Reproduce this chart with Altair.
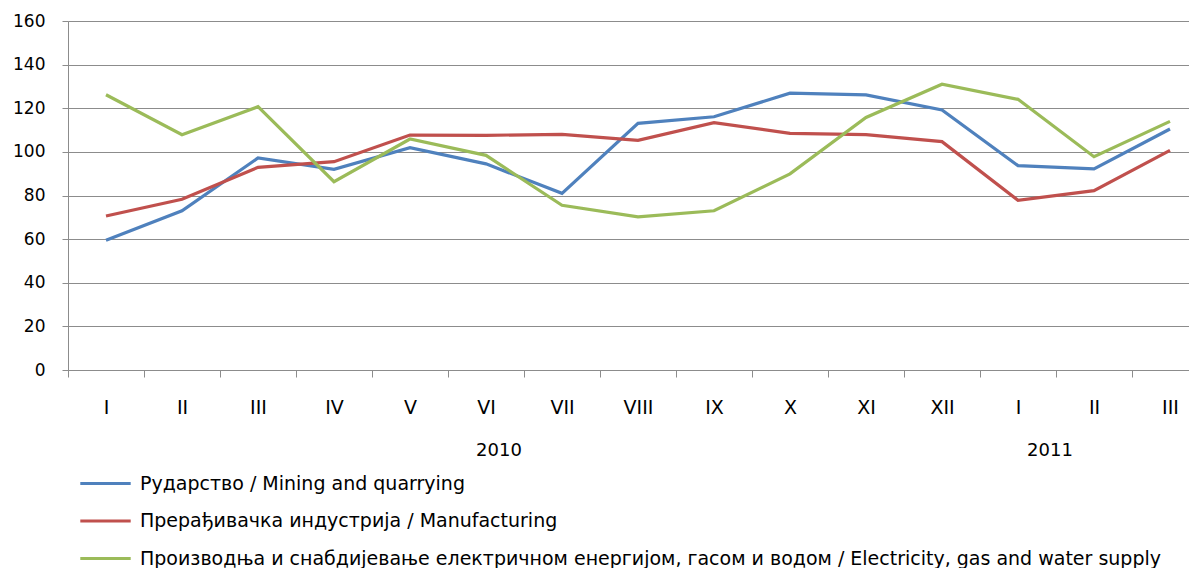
import altair as alt
import pandas as pd

months = ["I", "II", "III", "IV", "V", "VI", "VII", "VIII", "IX", "X", "XI", "XII", "I", "II", "III"]
years = ["2010", "2011"]
year_first_idx = [0, 12]
year_last_idx = [11, 14]
mining = [59.5, 73.0, 97.2, 92.0, 101.9, 94.5, 81.0, 113.1, 116.1, 126.9, 126.1, 119.2, 93.7, 92.2, 110.5]
manufacturing = [70.6, 78.3, 92.9, 95.5, 107.7, 107.6, 108.0, 105.3, 113.4, 108.5, 107.9, 104.7, 77.8, 82.2, 100.7]
electricity = [126.2, 107.9, 120.7, 86.3, 105.9, 98.4, 75.5, 70.2, 73.0, 89.9, 115.8, 131.0, 124.1, 97.8, 114.0]
series_names = [
    "Рударство / Mining and quarrying",
    "Прерађивачка индустрија / Manufacturing",
    "Производња и снабдијевање електричном енергијом, гасом и водом / Electricity, gas and water supply",
]
colors = ["#4F81BD", "#C0504D", "#9BBB59"]

FONT = "DejaVu Sans"
GRID = "#8c8c8c"

rows = []
for name, vals in zip(series_names, [mining, manufacturing, electricity]):
    for i, v in enumerate(vals):
        rows.append({"idx": i, "value": v, "series": name})
df = pd.DataFrame(rows)

month_df = pd.DataFrame({"idx": list(range(len(months))), "month": months})
year_df = pd.DataFrame({
    "year": years,
    "center": [(a + b) / 2 for a, b in zip(year_first_idx, year_last_idx)],
})

xscale = alt.Scale(domain=[-0.5, 14.25], nice=False, zero=False)
yscale = alt.Scale(domain=[0, 160], nice=False, zero=True)

label_expr = "[" + ",".join("'" + m + "'" for m in months) + "][datum.value]"

lines = alt.Chart(df).mark_line(strokeWidth=3.2).encode(
    x=alt.X("idx:Q", scale=xscale, axis=alt.Axis(
        values=[i + 0.5 for i in range(-1, 14)], labels=False, title=None, grid=False,
        tickSize=7, domainColor=GRID, tickColor=GRID, orient="bottom")),
    y=alt.Y("value:Q", scale=yscale, axis=alt.Axis(
        values=list(range(0, 161, 20)), title=None, grid=True, gridColor=GRID,
        domainColor=GRID, tickColor=GRID, tickSize=6, labelPadding=17,
        labelFont=FONT, labelFontSize=17, labelColor="black")),
    color=alt.Color("series:N", scale=alt.Scale(domain=series_names, range=colors),
                    legend=alt.Legend(title=None, orient="none", legendX=28, legendY=453,
                                      direction="vertical", symbolType="M-4.2,0H4.2", symbolSize=144,
                                      symbolStrokeWidth=3, labelFont=FONT, labelFontSize=19,
                                      labelColor="black", labelLimit=2000, rowPadding=17.5,
                                      labelOffset=25)),
)

month_axis = alt.Chart(month_df).mark_point(opacity=0).encode(
    x=alt.X("idx:Q", scale=xscale, axis=alt.Axis(
        values=list(range(len(months))), labelExpr=label_expr, tickSize=0, domain=False,
        grid=False, labelPadding=28, title=None, orient="bottom", labelFont=FONT,
        labelFontSize=19, labelColor="black")),
)

year_2010 = alt.Chart(year_df.iloc[[0]]).mark_text(
    font=FONT, fontSize=18, color="black", baseline="middle", dx=-25
).encode(x=alt.X("center:Q", scale=xscale, axis=None), y=alt.value(430), text="year:N")
year_2011 = alt.Chart(year_df.iloc[[1]]).mark_text(
    font=FONT, fontSize=18, color="black", baseline="middle", dx=-44
).encode(x=alt.X("center:Q", scale=xscale, axis=None), y=alt.value(430), text="year:N")

chart = alt.layer(lines, month_axis, year_2010, year_2011).resolve_axis(x="independent").properties(
    width=1121, height=349,
    autosize=alt.AutoSizeParams(type="none"),
    padding={"left": 60, "top": 13, "right": 0, "bottom": 199},
).configure_view(stroke=None).configure(background="white")

chart.save("out.html", embed_options={"renderer": "svg", "actions": False})
